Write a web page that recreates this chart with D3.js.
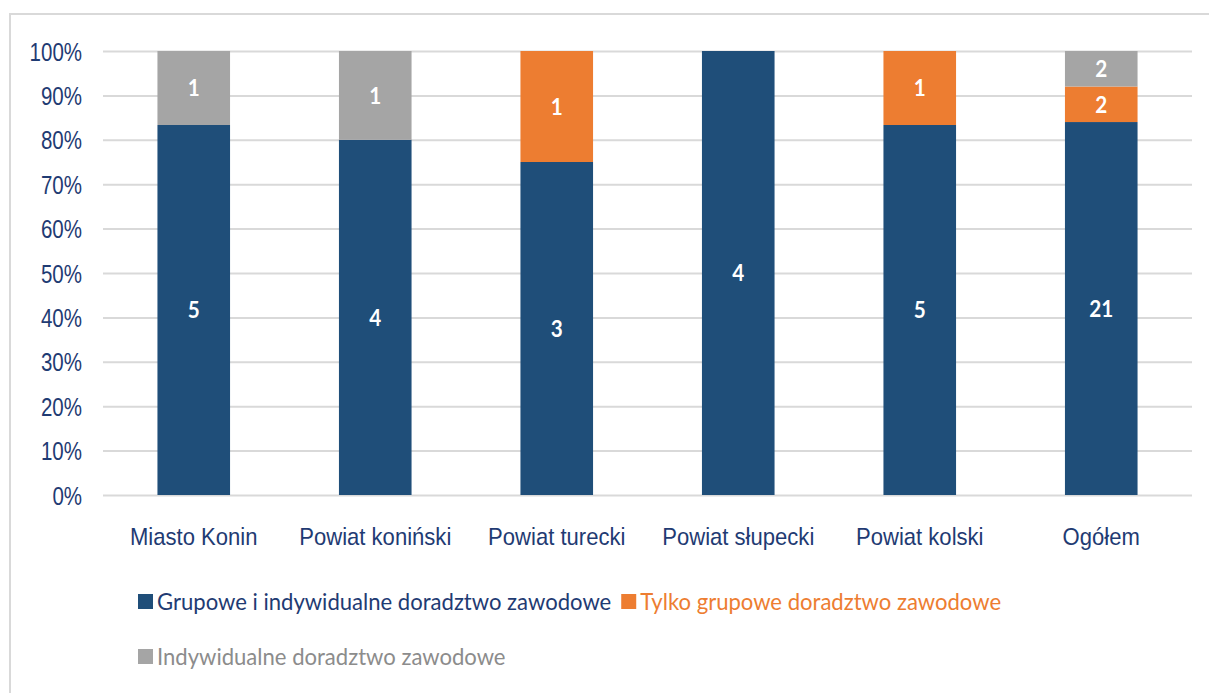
<!DOCTYPE html>
<html>
<head>
<meta charset="utf-8">
<script src="https://cdn.jsdelivr.net/npm/d3@7"></script>
<style>
  html, body { margin: 0; padding: 0; background: #fff; }
  svg { display: block; font-family: Lato, "Open Sans", sans-serif; }
</style>
</head>
<body>
<svg id="chart" width="1209" height="693"></svg>
<script>
// Counts per area for each type of career counselling
const categories = ["Miasto Konin", "Powiat koniński", "Powiat turecki", "Powiat słupecki", "Powiat kolski", "Ogółem"];
const groupAndIndividual = [5, 4, 3, 4, 5, 21];
const groupOnly = [0, 0, 1, 0, 1, 2];
const individualOnly = [1, 1, 0, 0, 0, 2];
const seriesNames = [
  "Grupowe i indywidualne doradztwo zawodowe",
  "Tylko grupowe doradztwo zawodowe",
  "Indywidualne doradztwo zawodowe"
];
const yTickLabels = ["0%", "10%", "20%", "30%", "40%", "50%", "60%", "70%", "80%", "90%", "100%"];

const colors = ["#1F4E79", "#ED7D31", "#A5A5A5"];
const textColors = ["#1F3B73", "#ED7D31", "#8C8C8C"];
const axisText = "#1F3B73";
// horizontal squeeze of the condensed lettering, per text group
const sxTick = 0.82, sxCat = 0.92, sxLegend = 0.96, sxValue = 0.9;

const svg = d3.select("#chart");

// outer frame
svg.append("rect")
  .attr("x", 10).attr("y", 14)
  .attr("width", 1230).attr("height", 720)
  .attr("fill", "none").attr("stroke", "#D9D9D9").attr("stroke-width", 2);

const plot = { left: 103, right: 1192, top: 51, bottom: 495 };

const x = d3.scaleBand().domain(categories)
  .range([plot.left, plot.right]).paddingInner(0.6).paddingOuter(0.3);
const y = d3.scaleLinear().domain([0, 1]).range([plot.bottom, plot.top]);

// table of rows for stacking as shares of each total
const rows = categories.map((c, i) => {
  const total = groupAndIndividual[i] + groupOnly[i] + individualOnly[i];
  return {
    category: c,
    s0: groupAndIndividual[i] / total,
    s1: groupOnly[i] / total,
    s2: individualOnly[i] / total,
    v0: groupAndIndividual[i], v1: groupOnly[i], v2: individualOnly[i]
  };
});
const keys = ["s0", "s1", "s2"];
const stacked = d3.stack().keys(keys)(rows);

// gridlines + y axis
const yAxis = d3.axisLeft(y)
  .tickValues(d3.range(0, 1.0001, 0.1))
  .tickFormat((d, i) => yTickLabels[i])
  .tickSize(-(plot.right - plot.left))
  .tickPadding(0);
const gy = svg.append("g").attr("transform", `translate(${plot.left},0)`).call(yAxis);
gy.select(".domain").remove();
gy.selectAll(".tick line").attr("stroke", "#D9D9D9").attr("stroke-width", 2);
gy.selectAll(".tick text")
  .attr("fill", axisText)
  .attr("font-size", 25)
  .attr("x", -21 / sxTick)
  .attr("dy", "0.36em")
  .attr("transform", `scale(${sxTick},1)`);

// bars
const layer = svg.append("g").selectAll("g").data(stacked).join("g")
  .attr("fill", (d, i) => colors[i]);
layer.selectAll("rect").data(d => d.filter(p => p[1] - p[0] > 0)).join("rect")
  .attr("x", d => x(d.data.category))
  .attr("width", x.bandwidth())
  .attr("y", d => y(d[1]))
  .attr("height", d => y(d[0]) - y(d[1]));

// value labels inside segments
stacked.forEach((s, si) => {
  const vk = "v" + si;
  svg.append("g").selectAll("text").data(s.filter(p => p.data[vk] > 0)).join("text")
    .attr("transform", d => `translate(${x(d.data.category) + x.bandwidth() / 2},${y((d[0] + d[1]) / 2)}) scale(${sxValue},1)`)
    .attr("text-anchor", "middle")
    .attr("dy", "0.36em")
    .attr("font-size", 23)
    .attr("font-weight", "bold")
    .attr("fill", "#fff")
    .text(d => d.data[vk]);
});

// x axis labels
const xAxis = d3.axisBottom(x).tickSize(0).tickPadding(0);
const gx = svg.append("g").attr("transform", `translate(0,${plot.bottom})`).call(xAxis);
gx.select(".domain").remove();
gx.selectAll(".tick text")
  .attr("fill", axisText)
  .attr("font-size", 24)
  .attr("y", 0)
  .attr("dy", "2.1em")
  .attr("transform", `scale(${sxCat},1)`)
  .attr("x", 0);

// legend, flowing left to right and wrapping
const legend = svg.append("g");
const legendLeft = 138, legendMax = 1060, rowGap = 55;
let lx = legendLeft, ly = 602;
seriesNames.forEach((name, i) => {
  const item = legend.append("g");
  item.append("rect").attr("width", 15).attr("height", 15).attr("y", -8).attr("fill", colors[i]);
  const t = item.append("text")
    .attr("transform", `translate(19,0) scale(${sxLegend},1)`)
    .attr("dy", "0.36em")
    .attr("font-size", 23)
    .attr("fill", textColors[i])
    .text(name);
  const w = 19 + t.node().getComputedTextLength() * sxLegend;
  if (lx + w > legendMax && lx > legendLeft) { lx = legendLeft; ly += rowGap; }
  item.attr("transform", `translate(${lx},${ly})`);
  lx += w + 10;
});
</script>
</body>
</html>
